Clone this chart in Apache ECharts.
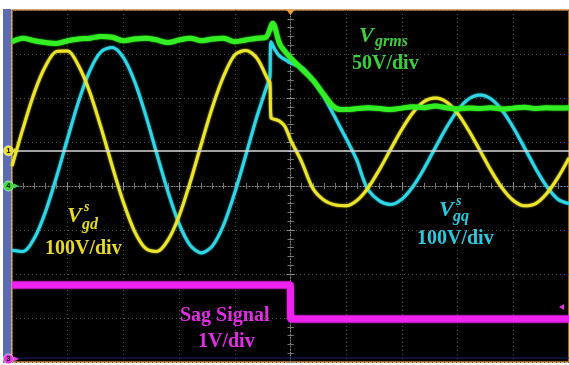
<!DOCTYPE html>
<html>
<head>
<meta charset="utf-8">
<script src="https://cdn.jsdelivr.net/npm/echarts@6/dist/echarts.min.js"></script>
<style>
  html, body { margin: 0; padding: 0; background: #ffffff; }
  #scope { width: 569px; height: 365px; }
</style>
</head>
<body>
<div id="scope"></div>
<script>
// Horizontal axis: time in screen divisions (-5 .. 5), vertical axis: screen divisions (-4 .. 4)

// Ch1: grid voltage d-axis component (100 V/div)
const tVgd = [-5.0,-4.8,-4.6,-4.4,-4.2,-4.0,-3.8,-3.6,-3.4,-3.2,-3.0,-2.8,-2.6,-2.4,-2.2,-2.0,-1.8,-1.6,-1.4,-1.2,-1.0,-0.8,-0.6,-0.4,
  -0.37,-0.35,-0.3,-0.2,-0.1,
  0.0,0.2,0.4,0.6,0.8,1.0,1.2,1.4,1.6,1.8,2.0,2.2,2.4,2.6,2.8,3.0,3.2,3.4,3.6,3.8,4.0,4.2,4.4,4.6,4.8,5.0];
const vVgd = [0.45,1.32,2.12,2.72,3.06,3.07,2.72,2.12,1.32,0.45,-0.37,-1.03,-1.42,-1.49,-1.23,-0.68,0.09,0.96,1.80,2.50,2.98,3.08,2.90,2.40,
  2.36,1.55,1.52,1.48,1.35,
  1.05,0.55,-0.05,-0.32,-0.43,-0.45,-0.32,-0.03,0.38,0.84,1.29,1.67,1.92,2.00,1.91,1.65,1.26,0.81,0.35,-0.05,-0.33,-0.45,-0.40,-0.17,0.19,0.64];

// Ch2: grid voltage q-axis component (100 V/div)
const tVgq = [-5.0,-4.8,-4.6,-4.4,-4.2,-4.0,-3.8,-3.6,-3.4,-3.2,-3.0,-2.8,-2.6,-2.4,-2.2,-2.0,-1.8,-1.6,-1.4,-1.2,-1.0,-0.8,-0.6,-0.4,
  -0.37,-0.35,-0.28,-0.19,0.08,0.22,0.53,0.89,1.19,1.30,1.4,1.6,1.8,
  2.0,2.2,2.4,2.6,2.8,3.0,3.2,3.4,3.6,3.8,4.0,4.2,4.4,4.6,4.8,5.0];
const vVgq = [-1.46,-1.49,-1.19,-0.59,0.21,1.09,1.94,2.63,3.05,3.15,2.92,2.38,1.61,0.73,-0.13,-0.86,-1.35,-1.52,-1.36,-0.88,-0.15,0.71,1.59,2.36,
  2.46,3.28,3.10,2.95,2.75,2.68,2.18,1.34,0.59,0.18,-0.10,-0.34,-0.42,
  -0.30,-0.01,0.40,0.87,1.33,1.72,1.98,2.07,1.98,1.72,1.33,0.87,0.40,-0.01,-0.30,-0.40];

// Ch4: grid rms voltage (50 V/div)
const tVrms = [-5.0,-4.8,-4.6,-4.4,-4.2,-4.0,-3.8,-3.6,-3.4,-3.2,-3.0,-2.8,-2.6,-2.4,-2.2,-2.0,-1.8,-1.6,-1.4,-1.2,-1.0,-0.8,-0.6,
  -0.44,-0.32,-0.19,-0.01,0.17,0.40,0.58,0.76,0.89,
  1.0,1.2,1.4,1.6,1.8,2.0,2.2,2.4,2.6,2.8,3.0,3.2,3.4,3.6,3.8,4.0,4.2,4.4,4.6,4.8,5.0];
const vVrms = [3.28,3.36,3.30,3.26,3.24,3.30,3.34,3.36,3.40,3.38,3.30,3.34,3.36,3.32,3.26,3.32,3.36,3.30,3.34,3.36,3.28,3.32,3.36,
  3.38,3.70,3.22,2.93,2.70,2.41,2.11,1.82,1.74,
  1.74,1.76,1.78,1.76,1.74,1.77,1.80,1.78,1.82,1.78,1.75,1.77,1.76,1.78,1.75,1.77,1.79,1.76,1.78,1.77,1.78];

// Ch3: sag command signal (1 V/div)
const tSag = [-5.0, -0.01, 0.01, 5.0];
const vSag = [-2.25, -2.25, -3.02, -3.02];

// Channel ground markers (divisions) and trigger positions
const chMarkers = [
  { ch: '1', level: 0.8, color: '#e8e020' },
  { ch: '4', level: 0.0, color: '#33dd33' },
  { ch: '3', level: -3.93, color: '#e830e0' }
];
const triggerTime = 0;
const triggerLevel = -2.75;

const pairs = (t, v) => t.map((x, i) => [x, v[i]]);

const chart = echarts.init(document.getElementById('scope'), null, { renderer: 'canvas' });

const dotted = { color: '#505050', width: 1, type: [1, 3] };
const edgeAxisX = (pos) => ({
  type: 'value', min: -5, max: 5, interval: 1, position: pos,
  axisLine: { show: false }, axisLabel: { show: false }, splitLine: { show: false },
  axisTick: { show: true, inside: true, length: 4, lineStyle: { color: '#8a8a8a' } },
  minorTick: { show: true, splitNumber: 5, length: 3, lineStyle: { color: '#777' } }
});
const edgeAxisY = (pos) => ({
  type: 'value', min: -4, max: 4, interval: 1, position: pos,
  axisLine: { show: false }, axisLabel: { show: false }, splitLine: { show: false },
  axisTick: { show: true, inside: true, length: 4, lineStyle: { color: '#8a8a8a' } },
  minorTick: { show: true, splitNumber: 5, length: 3, lineStyle: { color: '#777' } }
});

const serif = '"Liberation Serif", "DejaVu Serif", serif';
// (x, y) is the top-left corner of the text box
const txt = (text, x, y, size, color, italic) => ({
  type: 'text', z: 100,
  style: {
    text, x, y, fill: color,
    font: (italic ? 'italic ' : '') + 'bold ' + size + 'px ' + serif,
    textAlign: 'left', verticalAlign: 'top'
  }
});

const lineSeries = (name, data, color, width, z) => ({
  name, type: 'line', data, showSymbol: false, smooth: 0.3, z,
  lineStyle: { color, width, shadowColor: color, shadowBlur: 2 },
  emphasis: { disabled: true }, animation: false
});

chart.setOption({
  animation: false,
  backgroundColor: '#ffffff',
  grid: {
    left: 12, right: -1, top: 10, bottom: 3,
    show: true, backgroundColor: '#000000', borderColor: '#c98b3c', borderWidth: 1.5
  },
  xAxis: [
    {
      type: 'value', min: -5, max: 5, interval: 1,
      axisLine: { show: true, onZero: true, lineStyle: { color: '#8c8c8c', width: 1, type: [1, 2] } },
      axisTick: { show: true, inside: true, length: 4, lineStyle: { color: '#8c8c8c' } },
      minorTick: { show: true, splitNumber: 5, length: 3, lineStyle: { color: '#8c8c8c' } },
      axisLabel: { show: false },
      splitLine: { show: true, lineStyle: dotted }
    },
    edgeAxisX('top'),
    edgeAxisX('bottom')
  ],
  yAxis: [
    {
      type: 'value', min: -4, max: 4, interval: 1,
      axisLine: { show: true, onZero: true, lineStyle: { color: '#8c8c8c', width: 1, type: [1, 2] } },
      axisTick: { show: true, inside: true, length: 4, lineStyle: { color: '#8c8c8c' } },
      minorTick: { show: true, splitNumber: 5, length: 3, lineStyle: { color: '#8c8c8c' } },
      axisLabel: { show: false },
      splitLine: { show: true, lineStyle: dotted }
    },
    edgeAxisY('right'),
    edgeAxisY('left')
  ],
  series: [
    lineSeries('Vgq', pairs(tVgq, vVgq), '#2ed6e6', 3, 3),
    Object.assign(lineSeries('Vgd', pairs(tVgd, vVgd), '#ece52a', 3, 4), {
      markLine: {
        silent: true, symbol: 'none', animation: false,
        label: { show: false },
        lineStyle: { color: '#d8d8d8', width: 1.5, type: 'solid' },
        data: [{ yAxis: chMarkers[0].level }]
      }
    }),
    lineSeries('Vgrms', pairs(tVrms, vVrms), '#33ee22', 5, 5),
    lineSeries('Sag', pairs(tSag, vSag), '#ee22ee', 7, 6)
  ],
  graphic: [
    { type: 'rect', shape: { x: 3, y: 9, width: 8, height: 354 }, style: { fill: '#5b6cb0' }, z: 1 },
    { type: 'line', shape: { x1: 12, y1: 358, x2: 569, y2: 358 }, style: { stroke: '#1c1c70', lineWidth: 1 }, z: 1 },

    // Vgrms label
    txt('V', 359, 25, 22, '#3ccf3c', true),
    txt('grms', 375, 34, 16, '#3ccf3c', true),
    txt('50V/div', 352, 54, 20, '#3ccf3c', false),

    // Vgd label
    txt('V', 67, 205, 22, '#e6da24', true),
    txt('s', 84, 200, 14, '#e6da24', true),
    txt('gd', 82, 217, 16, '#e6da24', true),
    txt('100V/div', 45, 239, 20, '#e6da24', false),

    // Vgq label
    txt('V', 439, 199, 22, '#2cc8dc', true),
    txt('s', 456, 194, 14, '#2cc8dc', true),
    txt('gq', 453, 209, 16, '#2cc8dc', true),
    txt('100V/div', 417, 229, 20, '#2cc8dc', false),

    // Sag signal label
    txt('Sag Signal', 180, 306, 20, '#e22ee2', false),
    txt('1V/div', 198, 332, 20, '#e22ee2', false)
  ]
});

// Channel markers on the left edge, trigger markers on the top and right edges
const extra = [];
chMarkers.forEach(m => {
  const p = chart.convertToPixel({ gridIndex: 0 }, [-5, m.level]);
  const y = p[1];
  extra.push({ type: 'circle', z: 120, shape: { cx: 8.5, cy: y, r: 5 }, style: { fill: m.color, stroke: '#ffffff', lineWidth: 0.6 } });
  extra.push({ type: 'text', z: 121, style: { text: m.ch, x: 8.5, y: y, fill: '#000', font: 'bold 7px sans-serif', align: 'center', verticalAlign: 'middle' } });
  extra.push({ type: 'polygon', z: 120, shape: { points: [[14, y - 2.5], [19, y], [14, y + 2.5]] }, style: { fill: m.color } });
});
const trig = chart.convertToPixel({ gridIndex: 0 }, [triggerTime, 4]);
extra.push({ type: 'polygon', z: 120, shape: { points: [[trig[0] - 4, 10], [trig[0] + 4, 10], [trig[0], 15]] }, style: { fill: '#f0a030' } });
const lvl = chart.convertToPixel({ gridIndex: 0 }, [5, triggerLevel]);
extra.push({ type: 'polygon', z: 120, shape: { points: [[564, lvl[1] - 3], [564, lvl[1] + 3], [559, lvl[1]]] }, style: { fill: '#e030e0' } });

chart.setOption({ graphic: extra.map((e, i) => Object.assign({ id: 'mk' + i }, e)) });
</script>
</body>
</html>
